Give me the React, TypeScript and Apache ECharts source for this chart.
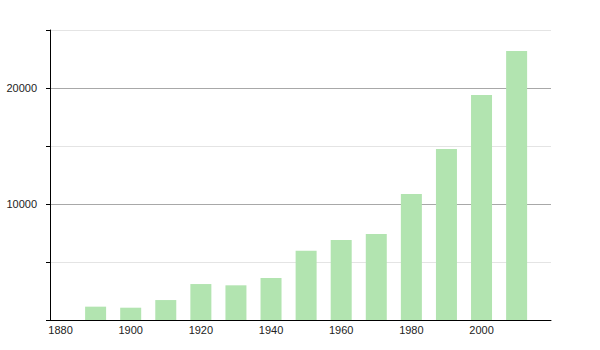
import React, { useEffect, useRef } from "react";
import * as echarts from "echarts";

const years = [1890, 1900, 1910, 1920, 1930, 1940, 1950, 1960, 1970, 1980, 1990, 2000, 2010];
const population = [1150, 1060, 1720, 3100, 2990, 3620, 5980, 6900, 7410, 10860, 14740, 19400, 23190];
const xTickLabels = [1880, 1900, 1920, 1940, 1960, 1980, 2000];
const yLabelValues = [10000, 20000];

export default function App() {
  const ref = useRef<HTMLDivElement>(null);
  useEffect(() => {
    document.body.style.margin = "0";
    const chart = echarts.init(ref.current!, null, { renderer: "svg" });
    chart.setOption({
      animation: false,
      grid: { left: 50, right: 49, top: 30, bottom: 30, containLabel: false },
      xAxis: {
        type: "value",
        min: 1877,
        max: 2019.8,
        axisLine: { show: true, lineStyle: { color: "#000", width: 1 } },
        axisTick: { show: false },
        splitLine: { show: false },
        axisLabel: {
          customValues: xTickLabels,
          color: "#222",
          fontSize: 11,
          fontFamily: "Liberation Sans, Arial, sans-serif",
          margin: 4,
          formatter: (v: number) => String(v),
        },
      },
      yAxis: {
        type: "value",
        min: 0,
        max: 25000,
        interval: 5000,
        axisLine: { show: true, lineStyle: { color: "#000", width: 1 } },
        axisTick: { show: true, length: 4, lineStyle: { color: "#000" } },
        splitLine: { show: true, lineStyle: { color: ["#a8a8a8", "#e4e4e4"], width: 1 } },
        axisLabel: {
          color: "#222",
          fontSize: 11,
          fontFamily: "Liberation Sans, Arial, sans-serif",
          margin: 13,
          formatter: (v: number) => (yLabelValues.includes(v) ? String(v) : ""),
        },
      },
      series: [
        {
          type: "bar",
          data: years.map((y, i) => [y, population[i]]),
          barWidth: 21,
          itemStyle: { color: "#b2e4b0" },
        },
      ],
    });
    return () => chart.dispose();
  }, []);
  return <div ref={ref} style={{ width: 600, height: 350 }} />;
}
